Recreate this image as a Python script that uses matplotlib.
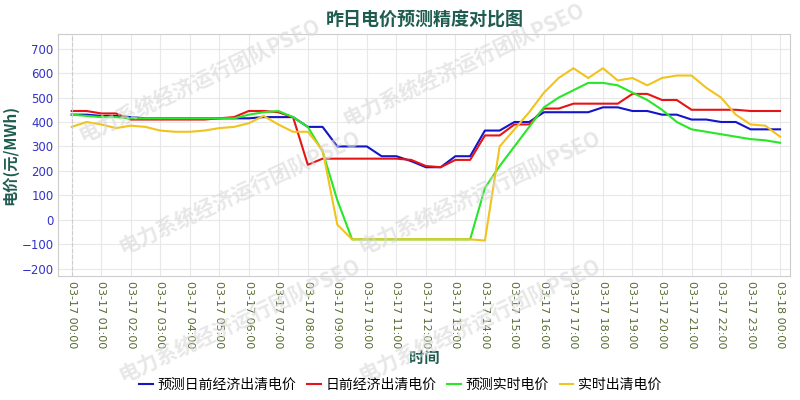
import matplotlib
matplotlib.use("Agg")
import matplotlib.pyplot as plt
import numpy as np

plt.rcParams['font.family'] = ['Noto Sans CJK SC', 'DejaVu Sans']

hours = [i * 0.5 for i in range(49)]
blue = [430,430,425,425,420,415,415,415,415,415,415,415,415,420,420,420,380,380,300,300,300,260,260,240,215,215,260,260,365,365,400,400,440,440,440,440,460,460,445,445,430,430,410,410,400,400,370,370,370]
red = [445,445,435,435,410,410,410,410,410,410,415,420,445,445,440,420,225,250,250,250,250,250,250,245,220,215,245,245,345,345,390,390,455,455,475,475,475,475,515,515,490,490,450,450,450,450,445,445,445]
green = [430,425,420,420,415,415,415,415,415,415,415,415,430,440,445,420,380,280,80,-80,-80,-80,-80,-80,-80,-80,-80,-80,130,220,300,380,460,500,530,560,560,550,520,490,450,400,370,360,350,340,330,325,315]
yellow = [380,400,390,375,385,380,365,360,360,365,375,380,395,425,390,360,360,285,-20,-80,-80,-80,-80,-80,-80,-80,-80,-80,-85,300,370,440,520,580,620,580,620,570,580,550,580,590,590,540,500,430,390,385,340]
names = ['预测日前经济出清电价', '日前经济出清电价', '预测实时电价', '实时出清电价']
colors = ['#1414c8', '#e61414', '#28e628', '#f0c31e']
xlabels = [f"03-17 {h:02d}:00" for h in range(24)] + ["03-18 00:00"]

fig = plt.figure(figsize=(8, 4), dpi=100)
ax = fig.add_axes([0.073, 0.31, 0.915, 0.605])
for s, n, c in zip([blue, red, green, yellow], names, colors):
    ax.plot(hours, s, color=c, lw=1.5, label=n)
ax.set_xlim(-0.45, 24.35)
ax.set_ylim(-230, 760)
ax.set_yticks(range(-200, 701, 100))
ax.set_xticks(range(25))
ax.set_xticklabels(xlabels, rotation=-90, fontsize=8, color='#556b2f', family='DejaVu Sans')
for t in ax.get_yticklabels():
    t.set_family('DejaVu Sans')
ax.tick_params(axis='y', colors='#3232c8', labelsize=8.5, length=0)
ax.tick_params(axis='x', length=0)
ax.grid(True, color='#e8e8e8', lw=0.8)
ax.axvline(0, color='#cccccc', ls='--', lw=0.8)
for sp in ax.spines.values():
    sp.set_color('#cccccc')
ax.set_title('昨日电价预测精度对比图', fontsize=13, fontweight='bold', color='#1f5c50', pad=6)
ax.set_ylabel('电价(元/MWh)', fontsize=11, fontweight='bold', color='#1f5c50', labelpad=2)
ax.set_xlabel('时间', fontsize=11, fontweight='bold', color='#1f5c50', labelpad=1)
for (x, y) in [(0.25, 0.8), (0.58, 0.84), (0.3, 0.52), (0.6, 0.52), (0.3, 0.2), (0.6, 0.2)]:
    fig.text(x, y, '电力系统经济运行团队PSEO', fontsize=15, fontweight='bold', color='#d8d8d8',
             rotation=25, ha='center', va='center', alpha=0.6)
fig.legend(loc='lower center', ncol=4, frameon=False, fontsize=10, bbox_to_anchor=(0.5, -0.01),
           handlelength=1.0, columnspacing=0.8, handletextpad=0.3)
fig.savefig('out.png')
